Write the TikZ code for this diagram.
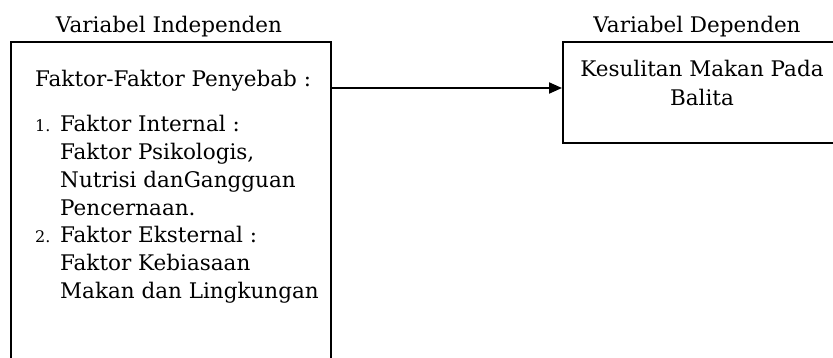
\documentclass[tikz,border=0pt]{standalone}
\usepackage{fontspec}
\setmainfont{DejaVu Serif}
\usetikzlibrary{arrows.meta}
\begin{document}
\begin{tikzpicture}[x=1pt,y=1pt,
  box/.style={draw,line width=2pt,rectangle,inner sep=0pt,anchor=north west},
  txt/.style={inner sep=0pt,font=\fontsize{21.5}{27.7}\selectfont},
  link/.style={line width=2pt,-{Triangle[length=13pt,width=11pt]}}]
\useasboundingbox (0,0) rectangle (833,-358);
\node[box,minimum width=320pt,minimum height=340pt] (indep) at (10,-41) {};
\node[box,minimum width=290pt,minimum height=101pt] (dep) at (562,-41) {};
\node[txt,anchor=base] (tindep) at (169,-33) {Variabel Independen};
\node[txt,anchor=base] (tdep) at (697,-33) {Variabel Dependen};
\node[txt,anchor=base west] (head) at (35,-87) {Faktor-Faktor Penyebab :};
\node[txt,anchor=base west] (list) at (35,-132) {\begin{tabular}[t]{@{}p{25pt}@{}l@{}}
{\fontsize{16}{27.7}\selectfont 1.} & Faktor Internal : \\
 & Faktor Psikologis, \\
 & Nutrisi danGangguan \\
 & Pencernaan. \\
{\fontsize{16}{27.7}\selectfont 2.} & Faktor Eksternal : \\
 & Faktor Kebiasaan \\
 & Makan dan Lingkungan
\end{tabular}};
\node[txt,anchor=base,align=center] (kes) at (702,-77) {Kesulitan Makan Pada};
\node[txt,anchor=base] (bal) at (702,-106) {Balita};
\draw[link] ([yshift=-47pt]indep.north east) -- ([yshift=-47pt]dep.north west);
\end{tikzpicture}
\end{document}
